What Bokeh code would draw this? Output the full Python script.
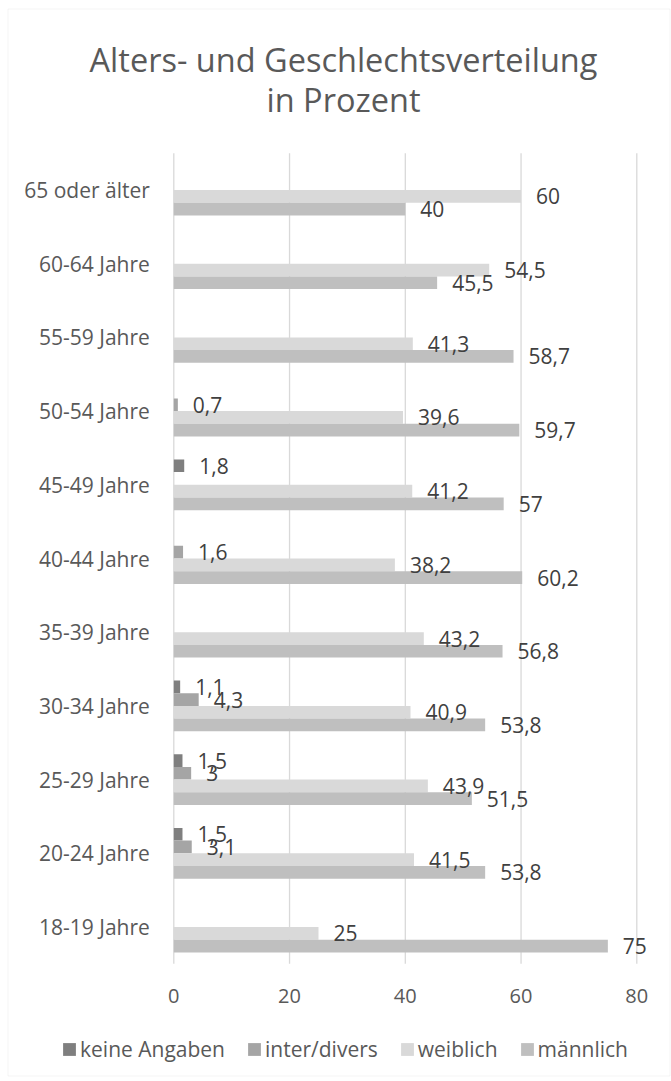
from bokeh.plotting import figure
from bokeh.models import (ColumnDataSource, Range1d, Legend, LegendItem, Label, BoxAnnotation)
from bokeh.transform import dodge
from bokeh.core.properties import value
from bokeh.embed import file_html
from bokeh.resources import INLINE

# ---------------- data (bottom -> top) ----------------
categories = ["18-19 Jahre", "20-24 Jahre", "25-29 Jahre", "30-34 Jahre", "35-39 Jahre",
              "40-44 Jahre", "45-49 Jahre", "50-54 Jahre", "55-59 Jahre", "60-64 Jahre",
              "65 oder älter"]
maennlich = [75, 53.8, 51.5, 53.8, 56.8, 60.2, 57, 59.7, 58.7, 45.5, 40]
weiblich = [25, 41.5, 43.9, 40.9, 43.2, 38.2, 41.2, 39.6, 41.3, 54.5, 60]
inter_divers = [None, 3.1, 3, 4.3, None, 1.6, None, 0.7, None, None, None]
keine_angaben = [None, 1.5, 1.5, 1.1, None, None, 1.8, None, None, None, None]
x_ticks = [0, 20, 40, 60, 80]

series_names = ["keine Angaben", "inter/divers", "weiblich", "männlich"]
series_values = [keine_angaben, inter_divers, weiblich, maennlich]
series_colors = ["#7f7f7f", "#a5a5a5", "#d9d9d9", "#bfbfbf"]

TITLE_1 = "Alters- und Geschlechtsverteilung"
TITLE_2 = "in Prozent"

TEXT = "#595959"
LABEL_TEXT = "#404040"
GRID = "#d9d9d9"
FONT = "Open Sans"
BAR_H = 0.1723
offsets = [1.5 * BAR_H, 0.5 * BAR_H, -0.5 * BAR_H, -1.5 * BAR_H]

W, H = 671, 1081
# layout: plot-area geometry in pixels
X0_PX, PX_PER_X = 173.3, 5.7875        # value 0 at 173.3px
Y_BOTTOM_CAT_PX, PX_PER_CAT = 926.5, 73.7


def dx(px):
    return (px - X0_PX) / PX_PER_X


def dy(py):
    return (Y_BOTTOM_CAT_PX - py) / PX_PER_CAT


def fmt(v):
    if float(v).is_integer():
        return str(int(v))
    return ("%g" % v).replace(".", ",")


p = figure(width=W, height=H, x_range=Range1d(dx(0), dx(W)), y_range=Range1d(dy(H), dy(0)),
           x_axis_type=None, y_axis_type=None, output_backend="svg", toolbar_location=None,
           min_border=0)
p.outline_line_color = None
p.background_fill_color = "white"
p.border_fill_color = "white"
p.xgrid.visible = False
p.ygrid.visible = False

n = len(categories)
ypos = list(range(n))

# vertical grid lines at the ticks
p.segment(x0=x_ticks, x1=x_ticks, y0=[-0.5] * len(x_ticks), y1=[n - 0.5] * len(x_ticks),
          line_color=GRID, line_width=1.3)

# tick labels of the value axis
p.text(x=x_ticks, y=[-0.5] * len(x_ticks), text=[str(t) for t in x_ticks],
       y_offset=32, text_align="center", text_baseline="middle",
       text_font=value(FONT), text_font_size="20px", text_color=TEXT)

# category labels
p.text(x=[0] * n, y=ypos, text=categories, x_offset=-24, text_align="right",
       text_baseline="middle", text_font=value(FONT), text_font_size="21px", text_color=TEXT)

items = []
sources = []
for name, vals, col, off in zip(series_names, series_values, series_colors, offsets):
    yy = [i for i, v in zip(ypos, vals) if v is not None]
    vv = [v for v in vals if v is not None]
    src = ColumnDataSource(dict(y=yy, val=vv, lbl=[fmt(v) for v in vv]))
    sources.append((src, off))
    r = p.hbar(y=dodge("y", off), left=0, right="val", height=BAR_H,
               source=src, fill_color=col, line_color=None)
    items.append(LegendItem(label=name, renderers=[r]))

for src, off in sources:
    p.text(x="val", y=dodge("y", off), text="lbl", source=src,
           x_offset=15, text_align="left", text_baseline="middle",
           text_font=value(FONT), text_font_size="21px", text_color=LABEL_TEXT)

legend = Legend(items=items, orientation="horizontal", location=(61, 18),
                glyph_width=16, glyph_height=16, label_standoff=3, spacing=21,
                padding=0, margin=0, border_line_color=None, background_fill_alpha=0,
                label_text_font=FONT, label_text_font_size="21px", label_text_color=TEXT)
p.add_layout(legend)

# title (two lines)
p.add_layout(Label(x=dx(343), y=dy(59), text=TITLE_1, text_align="center",
                   text_baseline="alphabetic", text_font=FONT, text_font_size="32.5px",
                   text_color=TEXT))
p.add_layout(Label(x=dx(343), y=dy(99), text=TITLE_2, text_align="center",
                   text_baseline="alphabetic", text_font=FONT, text_font_size="32.5px",
                   text_color=TEXT))

# chart-area border
p.add_layout(BoxAnnotation(left=dx(7.5), right=dx(669.5), top=dy(8.5), bottom=dy(1075.5),
                           fill_alpha=0, line_color=GRID, line_width=1))

open("out.html", "w").write(file_html(p, INLINE))
